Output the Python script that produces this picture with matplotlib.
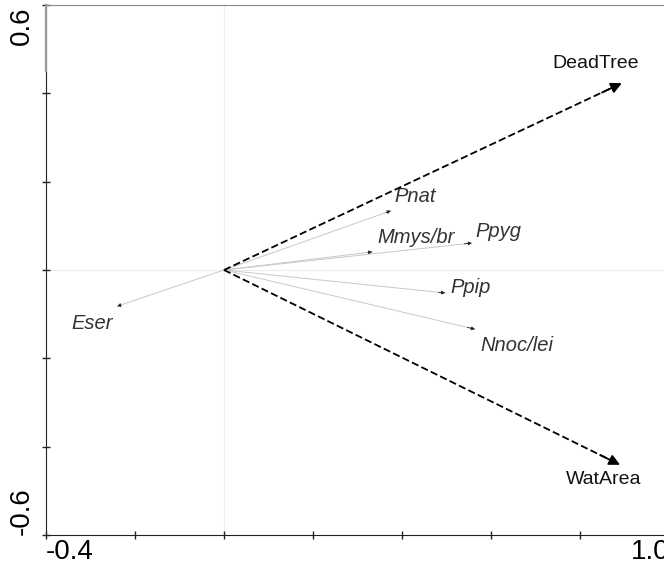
import numpy as np
import matplotlib
matplotlib.use('Agg')
import matplotlib.pyplot as plt

plt.rcParams['font.family'] = ['Liberation Sans', 'DejaVu Sans']

# species scores (arrow tips)
species = ['Pnat', 'Mmys/br', 'Ppyg', 'Ppip', 'Nnoc/lei', 'Eser']
sp_x = [0.375, 0.333, 0.557, 0.497, 0.564, -0.240]
sp_y = [0.134, 0.041, 0.061, -0.052, -0.134, -0.082]

# environmental variables
env = ['DeadTree', 'WatArea']
env_x = [0.894, 0.890]
env_y = [0.423, -0.441]

# label offsets in pixels (dx, dy, ha)
sp_off = [(3, 14, 'left'), (5, 14, 'left'), (4, 12, 'left'),
          (5, 5, 'left'), (5, -16, 'left'), (-25, -17, 'center')]
env_off = [(-26, 20), (-16, -15)]

fig = plt.figure(figsize=(6.64, 5.75), dpi=100)
ax = fig.add_axes([46/664, 40/575, 623/664, 530/575])
ax.set_xlim(-0.4, 1.0)
ax.set_ylim(-0.6, 0.6)

# faint zero lines
ax.axvline(0, color='#eeeeee', lw=0.8, zorder=0)
ax.axhline(0, color='#eeeeee', lw=0.8, zorder=0)

# species arrows: light shaft, small dark head
for name, x, y, (dx, dy, ha) in zip(species, sp_x, sp_y, sp_off):
    ax.plot([0, x], [0, y], color='#c8c8c8', lw=0.7, zorder=2)
    ax.annotate('', xy=(x, y), xytext=(0.97 * x, 0.97 * y),
                arrowprops=dict(arrowstyle='-|>', color='#222222', lw=0.6,
                                mutation_scale=5, shrinkA=0, shrinkB=0))
    ax.annotate(name, xy=(x, y), xytext=(dx, dy), textcoords='offset pixels',
                ha=ha, va='center', fontsize=14.5, style='italic', color='#333333')

# environmental arrows: dashed black
for name, x, y, (dx, dy) in zip(env, env_x, env_y, env_off):
    ax.plot([0, 0.97 * x], [0, 0.97 * y], color='black', lw=1.3,
            ls=(0, (4, 1.8)), zorder=3)
    ax.annotate('', xy=(x, y), xytext=(0.95 * x, 0.95 * y),
                arrowprops=dict(arrowstyle='-|>', color='black', lw=1.3,
                                mutation_scale=16, shrinkA=0, shrinkB=0))
    ax.annotate(name, xy=(x, y), xytext=(dx, dy), textcoords='offset pixels',
                ha='center', va='center', fontsize=14, color='#111111')

# spines
ax.spines['right'].set_visible(False)
ax.spines['top'].set_color('#888888')
ax.spines['left'].set_color('#222222')
ax.spines['bottom'].set_color('#222222')
ax.plot([-0.4, -0.4], [0.45, 0.6], color='#999999', lw=1.6, clip_on=False, zorder=5)

# ticks
ax.set_xticks([-0.4, -0.2, 0.0, 0.2, 0.4, 0.6, 0.8, 1.0])
ax.set_yticks([-0.6, -0.4, -0.2, 0.0, 0.2, 0.4, 0.6])
ax.set_xticklabels([])
ax.set_yticklabels([])
ax.tick_params(direction='inout', length=6, width=1, color='#222222')

ax.text(-0.4, -0.609, '-0.4', ha='left', va='top', fontsize=20)
ax.text(1.0, -0.609, '1.0', ha='right', va='top', fontsize=20)
ax.text(-0.454, 0.597, '0.6', ha='center', va='top', rotation=90, fontsize=20)
ax.text(-0.454, -0.6, '-0.6', ha='center', va='bottom', rotation=90, fontsize=20)

fig.savefig('out.png', dpi=100)
